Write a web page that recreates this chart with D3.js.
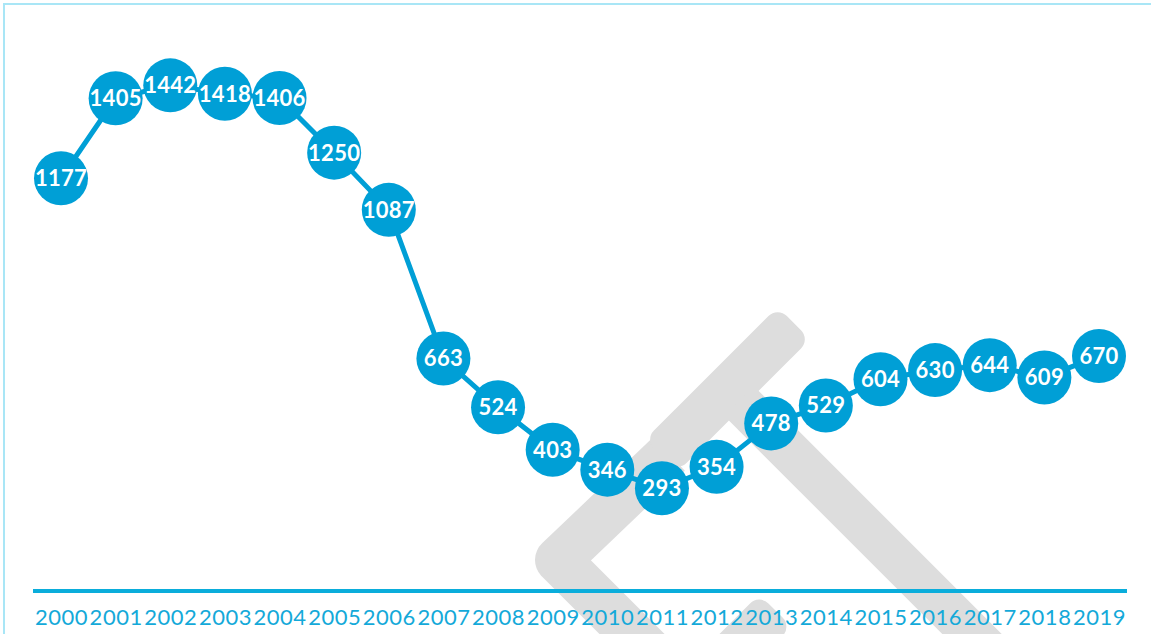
<!DOCTYPE html>
<html>
<head>
<meta charset="utf-8">
<script src="https://cdn.jsdelivr.net/npm/d3@7"></script>
<style>
  html, body { margin: 0; padding: 0; background: #fff; }
  svg { display: block; }
</style>
</head>
<body>
<div class="container"></div>
<script>
// data
const years = [2000, 2001, 2002, 2003, 2004, 2005, 2006, 2007, 2008, 2009,
               2010, 2011, 2012, 2013, 2014, 2015, 2016, 2017, 2018, 2019];
const values = [1177, 1405, 1442, 1418, 1406, 1250, 1087, 663, 524, 403,
                346, 293, 354, 478, 529, 604, 630, 644, 609, 670];

const width = 1151, height = 634;
const blue = '#009fd6';

const svg = d3.select('.container')
  .append('svg')
  .attr('width', width)
  .attr('height', height);

// scales
const x = d3.scaleLinear().domain([2000, 2019]).range([61, 1099]);
const y = d3.scaleLinear().domain([0, 1500]).range([591, 65]);

// frame (top + left only)
svg.append('path')
  .attr('d', `M4,${height} L4,4 L${width},4`)
  .attr('fill', 'none')
  .attr('stroke', '#a9e6f6')
  .attr('stroke-width', 2);

// grey logo watermark behind the chart
const wm = svg.append('g').attr('fill', '#dddddd');
// chevron "<"
wm.append('path')
  .attr('d', 'M669,454 L558,560 L740,742')
  .attr('fill', 'none')
  .attr('stroke', '#dddddd')
  .attr('stroke-width', 46)
  .attr('stroke-linejoin', 'round');
// upper diagonal bar
wm.append('rect')
  .attr('transform', 'translate(661,456) rotate(-45)')
  .attr('x', 0).attr('y', -23)
  .attr('width', 188).attr('height', 46)
  .attr('rx', 13);
// bar branching down-right
wm.append('rect')
  .attr('transform', 'translate(739,401) rotate(45)')
  .attr('x', 0).attr('y', -21)
  .attr('width', 420).attr('height', 42);
// bottom bar coming up from the edge
wm.append('rect')
  .attr('transform', 'translate(775.5,610.5) rotate(135)')
  .attr('x', 0).attr('y', -23)
  .attr('width', 200).attr('height', 46)
  .attr('rx', 13);

// x axis
const axis = svg.append('g')
  .attr('transform', `translate(0,${y(0)})`)
  .call(d3.axisBottom(x)
    .tickValues(years)
    .tickFormat(d3.format('d'))
    .tickSize(0)
    .tickPadding(18));
axis.select('.domain').remove();
axis.selectAll('text')
  .attr('fill', '#14a9d9')
  .style('font-family', 'Lato, sans-serif')
  .style('font-size', '22px')
  .style('letter-spacing', '0.5px');

svg.append('line')
  .attr('x1', 33).attr('x2', 1127)
  .attr('y1', y(0)).attr('y2', y(0))
  .attr('stroke', '#0aaddb')
  .attr('stroke-width', 4);

// line
const line = d3.line()
  .x((d, i) => x(years[i]))
  .y(d => y(d));

svg.append('path')
  .datum(values)
  .attr('d', line)
  .attr('fill', 'none')
  .attr('stroke', blue)
  .attr('stroke-width', 5);

// circles + labels
const pts = svg.append('g')
  .selectAll('g')
  .data(values)
  .join('g')
  .attr('transform', (d, i) => `translate(${x(years[i])},${y(d)})`);

pts.append('circle')
  .attr('r', 27)
  .attr('fill', blue);

pts.append('text')
  .attr('text-anchor', 'middle')
  .attr('dy', '0.36em')
  .attr('fill', '#fff')
  .style('font-family', 'Lato, sans-serif')
  .style('font-weight', 'bold')
  .style('font-size', '22px')
  .style('letter-spacing', '0.3px')
  .text(d => d);
</script>
</body>
</html>
